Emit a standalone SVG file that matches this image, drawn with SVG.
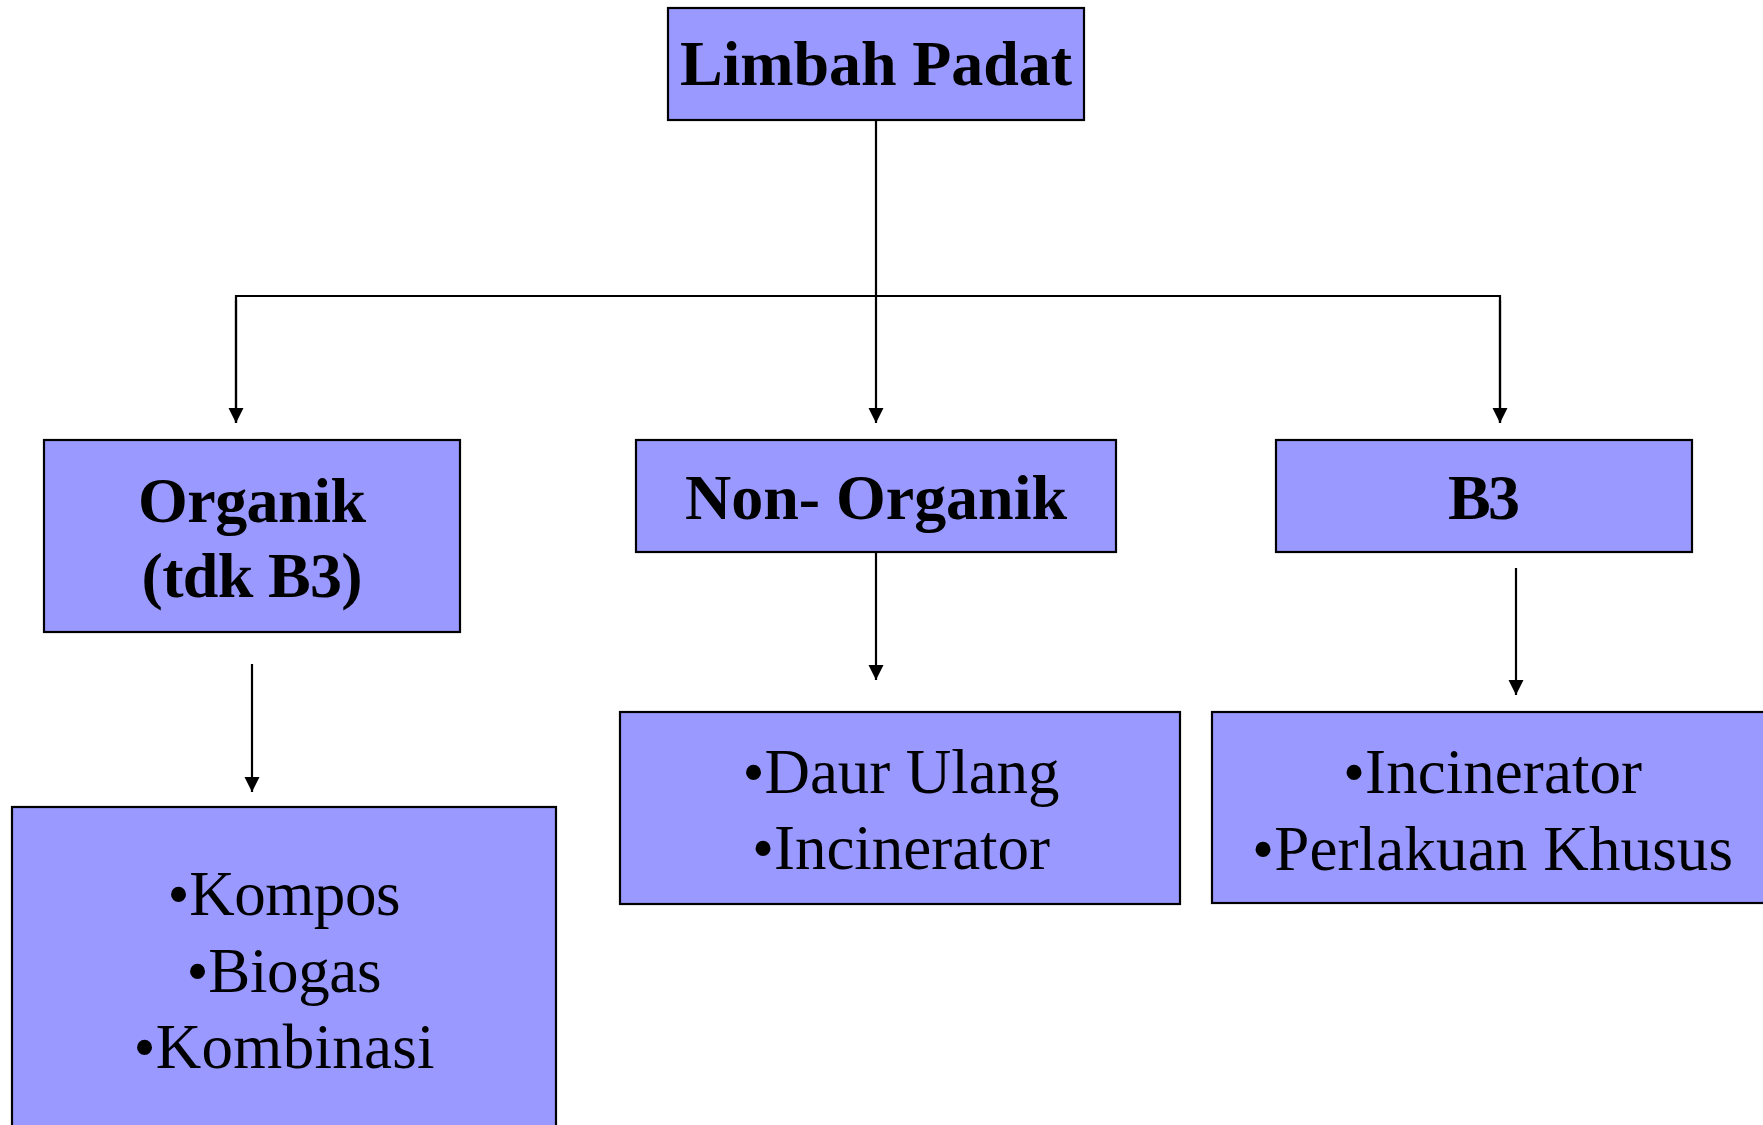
<svg xmlns="http://www.w3.org/2000/svg" width="1763" height="1125" viewBox="0 0 1763 1125">
<style>
.box{fill:#9999FF;stroke:#000;stroke-width:2.2}
.b{font-family:"Liberation Serif","Times New Roman",serif;font-weight:bold;font-size:64px;fill:#000;text-anchor:middle}
.r{font-family:"Liberation Serif","Times New Roman",serif;font-size:63px;fill:#000;text-anchor:middle}
.c{fill:none;stroke:#000;stroke-width:2.2}
</style>
<defs>
<marker id="arr" markerUnits="userSpaceOnUse" markerWidth="16" markerHeight="16" refX="15" refY="7.5" orient="auto">
<path d="M0,0 L15,7.5 L0,15 z" fill="#000"/>
</marker>
</defs>
<rect width="1763" height="1125" fill="#fff"/>
<g id="connectors">
<line class="c" x1="876" y1="120" x2="876" y2="423" marker-end="url(#arr)"/>
<polyline class="c" points="236,423 236,296 1500,296 1500,423"/>
<line class="c" x1="236" y1="300" x2="236" y2="423" marker-end="url(#arr)"/>
<line class="c" x1="1500" y1="300" x2="1500" y2="423" marker-end="url(#arr)"/>
<line class="c" x1="252" y1="664" x2="252" y2="792" marker-end="url(#arr)"/>
<line class="c" x1="876" y1="552" x2="876" y2="680" marker-end="url(#arr)"/>
<line class="c" x1="1516" y1="568" x2="1516" y2="695" marker-end="url(#arr)"/>
</g>
<g id="limbah-padat">
<rect class="box" x="668" y="8" width="416" height="112"/>
<text class="b" x="876" y="85" textLength="392">Limbah Padat</text>
</g>
<g id="organik">
<rect class="box" x="44" y="440" width="416" height="192"/>
<text class="b" x="252" y="522" textLength="228">Organik</text>
<text class="b" x="252" y="597" textLength="221">(tdk B3)</text>
</g>
<g id="non-organik">
<rect class="box" x="636" y="440" width="480" height="112"/>
<text class="b" x="876" y="519" textLength="382">Non- Organik</text>
</g>
<g id="b3">
<rect class="box" x="1276" y="440" width="416" height="112"/>
<text class="b" x="1484" y="519" textLength="72">B3</text>
</g>
<g id="organik-treatment">
<rect class="box" x="12" y="807" width="544" height="340"/>
<text class="r" x="284" y="915" textLength="233">•Kompos</text>
<text class="r" x="284" y="992" textLength="195">•Biogas</text>
<text class="r" x="284" y="1068" textLength="301">•Kombinasi</text>
</g>
<g id="non-organik-treatment">
<rect class="box" x="620" y="712" width="560" height="192"/>
<text class="r" x="901" y="793" textLength="317">•Daur Ulang</text>
<text class="r" x="901" y="869" textLength="298">•Incinerator</text>
</g>
<g id="b3-treatment">
<rect class="box" x="1212" y="712" width="570" height="191"/>
<text class="r" x="1492.5" y="793" textLength="299">•Incinerator</text>
<text class="r" x="1492.5" y="870" textLength="481">•Perlakuan Khusus</text>
</g>
</svg>
